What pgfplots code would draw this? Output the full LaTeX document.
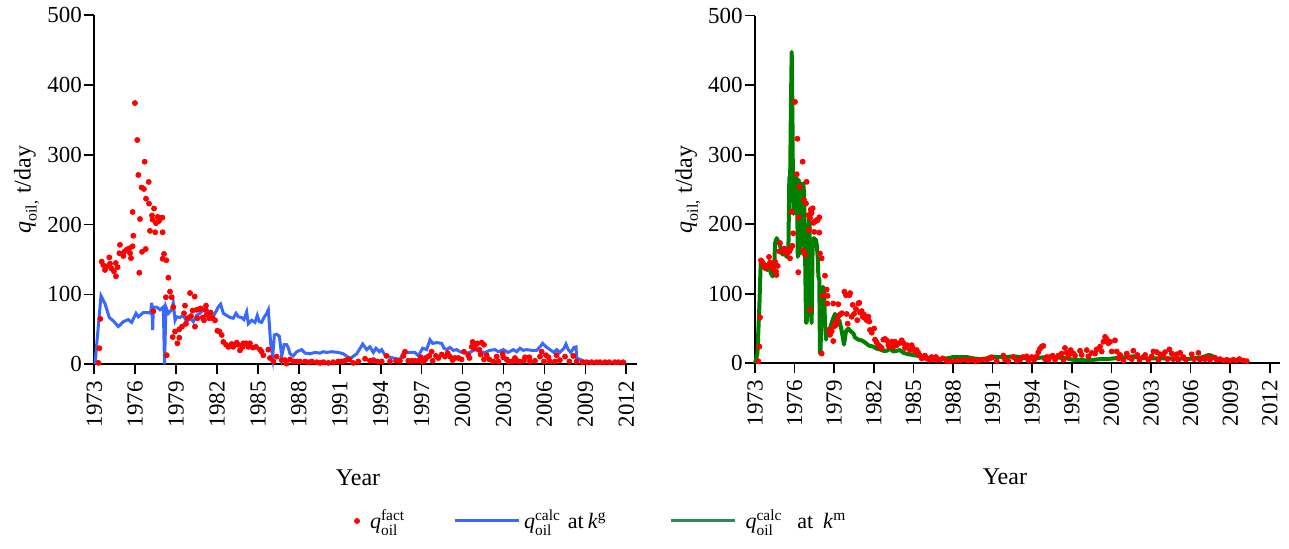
\documentclass[border=0pt]{standalone}
\usepackage{amsmath}
\usepackage{fontspec}
\setmainfont{Liberation Serif}
\usepackage{pgfplots}
\usepackage{pgfplotstable}
\pgfplotsset{compat=1.18}
\definecolor{qblue}{RGB}{55,105,255}
\definecolor{qgreen}{RGB}{0,128,0}
\definecolor{qgreenleg}{RGB}{46,139,87}
\definecolor{qred}{RGB}{255,0,0}
\pgfplotsset{
  myaxis/.style={
    scale only axis,
    axis lines=left,
    axis line style={-, line width=0.8pt, black},
    tick style={line width=0.8pt, black},
    tick align=outside,
    major tick length=5pt,
    ymin=0, ymax=500,
    ytick={0,100,...,500},
    xtick={1973,1976,...,2012},
    xticklabel style={rotate=90, anchor=east},
    yticklabel style={inner sep=1pt},
    ticklabel style={font=\fontsize{11.5}{13}\selectfont},
    /pgf/number format/.cd, 1000 sep={}, assume math mode=true,
    /pgfplots/.cd,
    label style={font=\fontsize{12}{14}\selectfont},
    clip=false,
  },
  factstyle/.style={only marks, mark=*, mark size=1.25pt, color=qred, mark options={draw=qred, fill=qred}},
  legline/.style={legend image code/.code={\draw[##1] (0pt,0pt) -- (32pt,0pt);}},
  legmark/.style={legend image code/.code={\path[draw=none, fill=none] (-2pt,0pt) -- (4.5pt,0pt); \path[draw=none] plot[only marks, mark=*, mark size=1.25pt, mark options={draw=qred, fill=qred}] coordinates {(0pt,0pt)};}},
}
\begin{document}
\pgfplotstableread{
x y
1973.30 2
1973.37 23
1973.44 65
1973.54 147
1973.66 142
1973.78 135
1973.91 140
1974.10 153
1974.15 144
1974.27 137
1974.44 133
1974.57 145
1974.59 126
1974.71 139
1974.84 159
1974.88 171
1975.13 155
1975.20 161
1975.37 164
1975.57 166
1975.62 159
1975.69 152
1975.81 169
1975.86 184
1975.81 218
1975.98 374
1976.15 321
1976.23 271
1976.30 131
1976.35 208
1976.47 253
1976.50 161
1976.64 251
1976.69 290
1976.77 165
1976.79 237
1976.99 261
1977.01 230
1977.08 191
1977.23 213
1977.28 207
1977.33 76
1977.38 223
1977.47 189
1977.52 202
1977.65 211
1977.74 205
1977.82 209
1977.99 210
1978.01 189
1978.01 151
1978.11 158
1978.25 96
1978.28 149
1978.31 13
1978.43 124
1978.55 104
1978.67 96
1978.79 82
1978.75 39
1978.92 47
1979.09 30
1979.23 38
1979.23 50
1979.43 54
1979.58 73
1979.65 84
1979.72 58
1979.85 66
1980.02 102
1980.09 69
1980.21 77
1980.36 97
1980.38 54
1980.51 78
1980.56 66
1980.70 79
1980.80 80
1980.95 67
1981.04 63
1981.12 78
1981.19 84
1981.24 71
1981.43 66
1981.53 74
1981.68 66
1981.85 63
1982.02 48
1982.17 47
1982.34 42
1982.46 32
1982.66 28
1982.83 25
1983.07 29
1983.19 25
1983.44 31
1983.56 28
1983.68 20
1983.88 25
1983.93 30
1984.12 30
1984.29 25
1984.41 30
1984.61 24
1984.85 25
1985.15 21
1985.27 18
1985.39 13
1985.76 21
1985.88 9
1986.13 4
1986.37 11
1986.74 6
1986.98 6
1987.10 1
1987.35 7
1987.60 4
1987.84 4
1988.08 4
1988.45 4
1988.70 3
1988.94 4
1989.30 3
1989.55 2
1989.80 3
1990.16 2
1990.52 3
1990.89 4
1991.13 4
1991.38 5
1991.60 7
1991.70 7
1991.99 2
1992.36 4
1992.85 8
1993.21 5
1993.46 6
1993.75 4
1994.07 4
1994.43 12
1994.68 4
1995.12 5
1995.41 5
1995.66 12
1995.78 18
1996.02 5
1996.27 5
1996.51 5
1996.76 5
1996.95 10
1997.07 4
1997.24 6
1997.37 10
1997.56 12
1997.73 18
1997.81 5
1998.05 12
1998.22 9
1998.47 14
1998.71 11
1998.91 16
1999.08 11
1999.27 6
1999.44 9
1999.69 9
1999.93 7
2000.10 18
2000.42 13
2000.50 9
2000.67 25
2000.74 32
2000.84 23
2000.98 28
2001.08 30
2001.23 21
2001.33 14
2001.40 31
2001.57 28
2001.57 7
2001.77 13
2001.96 7
2002.25 4
2002.50 11
2002.62 4
2002.94 15
2002.99 10
2003.23 7
2003.35 4
2003.60 4
2003.84 9
2003.97 5
2004.16 4
2004.50 5
2004.58 10
2004.89 10
2004.94 4
2005.31 5
2005.68 11
2005.80 18
2005.97 4
2006.12 13
2006.29 10
2006.41 4
2006.78 4
2006.90 13
2007.14 6
2007.51 11
2007.83 4
2008.12 12
2008.36 4
2008.80 3
2009.10 3
2009.46 3
2009.83 3
2010.08 3
2010.44 3
2010.76 3
2011.17 3
2011.42 3
2011.78 3
}\leftfact
\pgfplotstableread{
x y
1973.05 0
1973.49 98
1973.78 87
1974.10 67
1974.40 62
1974.76 54
1975.13 61
1975.49 64
1975.74 60
1976.06 73
1976.23 68
1976.59 74
1976.96 74
1977.13 73
1977.21 88
1977.28 49
1977.33 82
1977.57 82
1977.82 78
1978.06 82
1978.15 0
1978.25 82
1978.43 73
1978.67 78
1978.79 88
1978.92 63
1979.04 68
1979.28 67
1979.53 70
1979.77 61
1980.02 66
1980.26 61
1980.51 70
1980.75 73
1980.99 78
1981.24 79
1981.48 73
1981.68 67
1981.85 73
1982.09 82
1982.26 86
1982.46 73
1982.70 70
1982.95 67
1983.19 66
1983.39 73
1983.56 68
1983.80 67
1983.97 64
1984.17 75
1984.29 58
1984.54 63
1984.78 60
1984.95 70
1985.10 61
1985.27 60
1985.44 67
1985.64 73
1985.76 78
1985.93 30
1986.08 10
1986.20 42
1986.37 43
1986.57 40
1986.74 11
1986.91 28
1987.10 28
1987.22 24
1987.35 15
1987.59 12
1987.84 18
1988.20 21
1988.45 16
1988.81 15
1989.18 17
1989.55 16
1989.79 18
1990.04 17
1990.40 18
1990.89 17
1991.26 15
1991.62 10
1991.75 8
1992.24 15
1992.68 29
1992.97 21
1993.21 25
1993.46 17
1993.65 23
1993.90 18
1994.07 21
1994.31 13
1994.68 10
1995.17 8
1995.41 7
1995.66 16
1995.90 17
1996.51 17
1996.76 12
1997.07 23
1997.37 21
1997.61 35
1997.81 30
1998.10 31
1998.47 30
1998.64 23
1998.83 21
1999.08 24
1999.32 20
1999.57 21
1999.81 18
2000.25 16
2000.54 17
2000.91 21
2001.28 18
2001.64 17
2002.01 20
2002.38 21
2002.62 18
2002.99 21
2003.35 17
2003.72 21
2003.97 18
2004.21 23
2004.45 20
2004.70 21
2005.07 20
2005.43 20
2005.68 25
2005.87 30
2006.12 25
2006.41 21
2006.70 17
2006.90 21
2007.14 17
2007.44 23
2007.58 29
2007.75 21
2007.93 17
2008.17 24
2008.32 25
2008.36 9
2008.61 7
2008.97 4
2009.34 3
2009.83 2
2010.32 2
}\leftcalc
\pgfplotstableread{
x y
1973.25 3
1973.33 24
1973.38 66
1973.45 148
1973.58 144
1973.68 139
1973.76 137
1973.88 140
1974.06 153
1974.14 145
1974.26 138
1974.39 135
1974.52 146
1974.59 132
1974.62 127
1974.72 140
1974.84 161
1974.89 173
1975.10 161
1975.22 165
1975.35 163
1975.45 158
1975.60 161
1975.65 151
1975.70 165
1975.78 218
1975.83 169
1975.90 187
1976.03 376
1976.16 272
1976.21 323
1976.28 131
1976.30 210
1976.36 254
1976.41 254
1976.61 290
1976.66 162
1976.71 235
1976.79 156
1976.86 230
1976.91 261
1977.04 213
1977.09 192
1977.17 209
1977.17 77
1977.22 221
1977.29 216
1977.37 223
1977.42 202
1977.49 189
1977.55 204
1977.67 206
1977.75 206
1977.87 210
1977.87 188
1977.92 158
1978.05 151
1978.05 14
1978.13 97
1978.30 126
1978.43 106
1978.48 86
1978.50 97
1978.61 48
1978.68 41
1978.81 46
1978.93 32
1978.93 86
1978.98 53
1979.06 58
1979.14 55
1979.24 62
1979.31 68
1979.31 85
1979.44 70
1979.57 72
1979.77 103
1979.89 98
1979.94 71
1980.02 57
1980.15 98
1980.20 101
1980.32 67
1980.40 84
1980.50 71
1980.65 78
1980.75 62
1980.83 86
1980.90 87
1980.95 73
1981.08 75
1981.16 67
1981.26 70
1981.33 65
1981.46 62
1981.59 67
1981.66 60
1981.71 48
1981.84 44
1982.02 50
1982.09 34
1982.22 30
1982.34 26
1982.47 24
1982.60 22
1982.72 34
1982.85 35
1982.97 33
1983.10 26
1983.18 24
1983.35 31
1983.48 24
1983.61 31
1983.73 26
1983.93 29
1984.11 33
1984.24 29
1984.36 22
1984.54 26
1984.74 19
1984.87 26
1984.94 22
1985.05 19
1985.12 17
1985.25 19
1985.37 15
1985.50 11
1985.63 7
1985.88 11
1986.01 7
1986.21 5
1986.38 9
1986.51 6
1986.71 9
1986.81 5
1987.02 5
1987.22 7
1987.52 3
1987.77 3
1988.15 4
1988.53 4
1988.91 5
1989.16 4
1989.41 5
1989.67 3
1989.92 4
1990.17 5
1990.55 5
1990.75 7
1990.93 8
1991.31 3
1991.81 11
1991.94 5
1992.19 3
1992.57 9
1992.82 4
1993.08 5
1993.28 9
1993.58 10
1993.71 4
1993.96 9
1994.14 5
1994.34 10
1994.46 16
1994.59 21
1994.72 24
1994.84 25
1994.97 6
1995.10 9
1995.22 5
1995.35 9
1995.55 11
1995.73 5
1995.98 11
1996.23 14
1996.36 5
1996.48 22
1996.61 15
1996.74 10
1996.91 19
1996.99 15
1997.12 14
1997.24 11
1997.62 18
1997.75 12
1998.13 19
1998.25 10
1998.51 15
1998.76 14
1998.88 20
1999.14 24
1999.26 17
1999.39 31
1999.52 38
1999.64 35
1999.77 29
1999.89 31
2000.02 17
2000.27 33
2000.40 17
2000.53 7
2000.65 12
2000.90 4
2001.16 14
2001.28 9
2001.54 6
2001.66 18
2001.96 12
2002.12 5
2002.42 9
2002.55 12
2002.80 5
2003.05 10
2003.18 17
2003.43 16
2003.56 5
2003.68 13
2003.93 12
2004.06 16
2004.24 6
2004.39 20
2004.57 14
2004.69 6
2004.94 13
2005.07 5
2005.20 15
2005.45 9
2005.65 5
2006.08 13
2006.26 6
2006.59 15
2006.71 5
2006.96 7
2007.09 6
2007.34 9
2007.47 5
2007.85 8
2007.98 5
2008.23 6
2008.48 4
2008.73 5
2008.98 4
2009.24 5
2009.49 4
2009.69 6
2009.99 4
2010.25 3
}\rightfact
\pgfplotstableread{
x y
1973.00 0
1973.18 14
1973.33 82
1973.43 144
1973.51 148
1973.68 144
1973.83 137
1973.93 134
1974.01 139
1974.14 145
1974.19 130
1974.34 125
1974.44 130
1974.52 173
1974.64 180
1974.77 175
1974.89 170
1975.02 158
1975.15 156
1975.27 158
1975.40 153
1975.53 165
1975.60 268
1975.66 262
1975.72 370
1975.78 448
1975.83 370
1975.87 265
1975.92 215
1976.00 262
1976.06 266
1976.12 215
1976.18 266
1976.24 153
1976.30 264
1976.38 254
1976.45 158
1976.52 258
1976.60 182
1976.66 259
1976.71 245
1976.78 177
1976.84 91
1976.88 58
1976.92 60
1976.96 182
1977.04 177
1977.12 216
1977.17 120
1977.24 72
1977.29 58
1977.37 177
1977.47 180
1977.62 177
1977.67 172
1977.75 153
1977.80 125
1977.87 120
1977.92 14
1977.97 14
1978.02 100
1978.08 72
1978.15 110
1978.23 105
1978.30 58
1978.38 34
1978.45 43
1978.60 48
1978.73 53
1978.81 58
1978.93 65
1979.06 71
1979.19 67
1979.31 58
1979.39 62
1979.57 46
1979.74 27
1979.89 46
1980.07 50
1980.20 47
1980.45 43
1980.58 37
1980.83 34
1981.08 33
1981.33 30
1981.59 26
1981.71 25
1981.96 24
1982.22 21
1982.47 20
1982.72 18
1982.97 18
1983.23 21
1983.48 17
1983.98 19
1984.24 15
1984.62 13
1984.99 12
1985.50 10
1985.88 9
1986.26 7
1986.76 6
1987.52 7
1988.03 9
1988.53 9
1989.04 9
1989.54 7
1990.05 6
1990.55 7
1990.93 10
1991.18 9
1991.56 9
1992.07 9
1992.57 10
1993.08 9
1993.58 7
1994.09 7
1994.59 8
1995.10 9
1995.60 9
1996.11 8
1996.61 7
1997.12 5
1997.62 5
1998.13 4
1998.63 5
1999.14 6
1999.64 6
2000.15 7
2000.65 8
2001.16 9
2001.66 10
2002.17 8
2002.67 7
2003.20 7
2004.20 7
2005.20 7
2005.70 6
2006.22 7
2006.71 8
2007.10 10
2007.35 12
2007.60 11
2007.85 7
2008.10 5
2008.48 4
2008.73 4
}\rightcalc
\begin{tikzpicture}
\path[use as bounding box] (0,0) rectangle (644.5pt,274.5pt);
\begin{axis}[myaxis,
  at={(47.15pt,92.35pt)}, anchor=south west,
  width=271.35pt, height=174.65pt,
  xmin=1973, xmax=2012.79,
  xlabel={Year},
  xlabel style={at={(axis description cs:0.486,-0.348)}, anchor=base},
  ylabel={$\text{\itshape q}_{\text{oil,}}$ t/day},
  ylabel style={at={(axis description cs:-0.125,0.5)}, anchor=center},
  legend columns=3,
  legend style={draw=none, fill=none, at={(axis description cs:0.465,-0.4486)}, anchor=west,
    font=\fontsize{11}{13}\selectfont,
    /tikz/every even column/.append style={column sep=22pt}},
]
\addplot[qblue, line width=1.5pt, forget plot] table {\leftcalc};
\addplot[factstyle, forget plot] table {\leftfact};
\addlegendimage{legmark}
\addlegendentry{$\text{\itshape q}_{\text{oil}}^{\text{fact}}$}
\addlegendimage{qblue, line width=1.5pt, legline}
\addlegendentry{$\text{\itshape q}_{\text{oil}}^{\text{calc}}$\hspace{3.5pt}at\hspace{2pt}\textit{k}\textsuperscript{g}\rule{7.5pt}{0pt}}
\addlegendimage{qgreenleg, line width=1.5pt, legline}
\addlegendentry{\rule{2.5pt}{0pt}$\text{\itshape q}_{\text{oil}}^{\text{calc}}$\hspace{7.5pt}at\hspace{5pt}\textit{k}\textsuperscript{m}}
\end{axis}
\begin{axis}[myaxis,
  at={(377.5pt,92.85pt)}, anchor=south west,
  width=262.5pt, height=173.8pt,
  xmin=1973, xmax=2012.77,
  xlabel={Year},
  xlabel style={at={(axis description cs:0.476,-0.35)}, anchor=base},
  ylabel={$\text{\itshape q}_{\text{oil,}}$ t/day},
  ylabel style={at={(axis description cs:-0.128,0.5)}, anchor=center},
]
\addplot[qgreen, line width=2pt, line join=round] table {\rightcalc};
\addplot[factstyle] table {\rightfact};
\end{axis}
\end{tikzpicture}
\end{document}
